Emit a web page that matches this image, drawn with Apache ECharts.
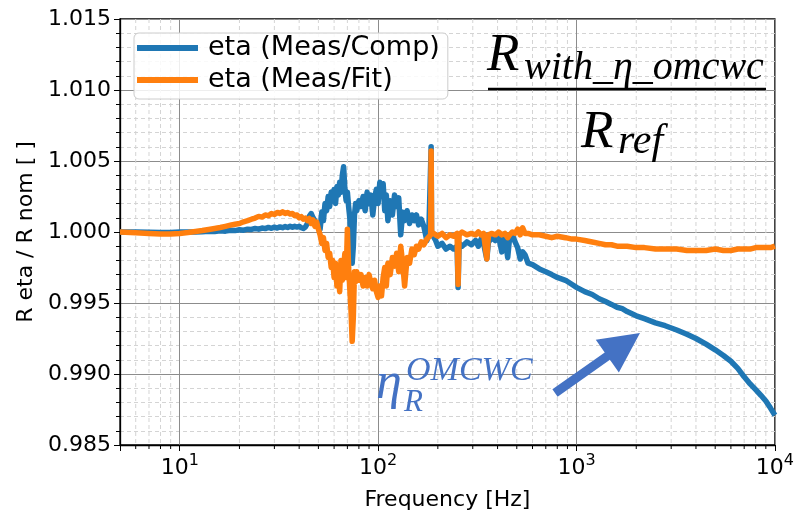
<!DOCTYPE html>
<html>
<head>
<meta charset="utf-8">
<script src="https://cdn.jsdelivr.net/npm/echarts@6/dist/echarts.min.js"></script>
<style>
  html, body { margin: 0; padding: 0; background: #fff; }
  #chart { width: 797px; height: 519px; }
</style>
</head>
<body>
<div id="chart"></div>
<script>
// frequency points [Hz], shared by both curves
const freq = [
  5, 6, 7, 8, 9, 10, 11, 12, 13, 14,
  15, 16, 17, 18, 19, 20, 21, 22, 23, 24,
  25, 26, 27, 28, 29, 30, 31, 32, 33, 34,
  35, 36, 37, 38, 39, 40, 41, 42, 43, 44,
  45, 46, 47, 48, 49, 50, 51, 52, 53, 54,
  55, 56, 57, 58, 59, 60, 61, 62, 63, 64,
  65, 66, 67, 68, 69, 70, 71, 72, 73, 74,
  75, 76, 77, 78, 80, 82, 84, 86, 88, 90,
  92, 94, 96, 98, 100, 102, 104, 106, 108, 110,
  112, 115, 118, 121, 124, 127, 130, 133, 136, 140,
  144, 148, 152, 156, 160, 165, 170, 176, 180, 184,
  185, 186, 188, 195, 200, 210, 220, 230, 240, 250,
  253, 256, 265, 280, 295, 310, 320, 330, 340, 353,
  360, 375, 390, 405, 420, 435, 450, 460, 475, 490,
  505, 520, 535, 550, 570, 600, 650, 700, 750, 800,
  880, 950, 1000, 1100, 1200, 1300, 1400, 1500, 1600, 1700,
  1800, 2000, 2200, 2500, 2800, 3200, 3600, 4000, 4500, 5000,
  5500, 6000, 6500, 7000, 7500, 8000, 8500, 9000, 9500, 10000
];

// eta (Meas/Comp)
const etaComp = [
  1.0000, 1.0000, 0.99998, 0.99996, 0.99997, 1.0000, 1.0000, 1.0000, 1.00002, 1.00005,
  1.00003, 1.00008, 1.00006, 1.00012, 1.0001, 1.00016, 1.00013, 1.0002, 1.00018, 1.00025,
  1.0002, 1.00028, 1.00024, 1.00032, 1.00026, 1.00034, 1.00028, 1.00036, 1.0003, 1.00038,
  1.00032, 1.0004, 1.00033, 1.0004, 1.00035, 1.0004, 1.0003, 1.00025, 1.00035, 1.0006,
  1.0011, 1.0013, 1.0010, 1.0008, 1.0006, 1.0004, 1.0002, 1.0014, 1.0008, 1.0020,
  1.0015, 1.0025, 1.0018, 1.0028, 1.0022, 1.0030, 1.0020, 1.0032, 1.0026, 1.0035,
  1.0028, 1.0040, 1.0046, 1.0030, 1.0022, 1.0028, 1.0018, 1.0010, 0.9985, 0.9978,
  0.9990, 1.0012, 1.0020, 1.0015, 1.0022, 1.0018, 1.0025, 1.0015, 1.0028, 1.0020,
  1.0026, 1.0012, 1.0024, 1.0030, 1.0020, 1.0035, 1.0028, 1.0034, 1.0015, 1.0026,
  1.0008, 1.0022, 1.0012, 1.0026, 1.0018, 1.0024, 0.9998, 1.0014, 1.0008, 1.0015,
  1.0006, 1.0012, 1.0008, 1.0012, 1.0005, 1.0009, 1.0004, 0.9994, 0.9998, 0.9998,
  1.0060, 1.0000, 0.9998, 0.9994, 0.9990, 0.9992, 0.9988, 0.9990, 0.9988, 0.9990,
  0.9961, 0.9992, 0.9990, 0.9993, 0.9991, 0.9994, 0.9990, 0.9995, 0.9992, 0.9981,
  0.9993, 0.9996, 0.9994, 0.9997, 0.9986, 0.9997, 0.9982, 0.9996, 0.9998, 0.9993,
  0.9989, 0.9981, 0.9986, 0.9984, 0.9978, 0.9977, 0.9974, 0.9972, 0.9970, 0.9968,
  0.9966, 0.9963, 0.9961, 0.9958, 0.9956, 0.9953, 0.9951, 0.9949, 0.9947, 0.9946,
  0.9944, 0.9941, 0.9939, 0.9936, 0.9934, 0.9931, 0.9928, 0.9925, 0.9921, 0.9917,
  0.9913, 0.9909, 0.9904, 0.9898, 0.9893, 0.9889, 0.9885, 0.9881, 0.9876, 0.9871
];

// eta (Meas/Fit)
const etaFit = [
  1.0000, 0.99995, 0.9999, 0.99986, 0.99986, 0.9999, 0.99996, 1.00003, 1.0001, 1.00018,
  1.00025, 1.00032, 1.0004, 1.00048, 1.00055, 1.0006, 1.00072, 1.0008, 1.0009, 1.00098,
  1.0011, 1.00105, 1.0012, 1.00115, 1.0013, 1.00124, 1.00138, 1.0013, 1.00142, 1.0013,
  1.00138, 1.00126, 1.0013, 1.00115, 1.0012, 1.001, 1.00108, 1.0009, 1.00098, 1.0008,
  1.00095, 1.0006, 1.00085, 1.0004, 1.0007, 1.0002, 0.9998, 0.9992, 0.9996, 0.9987,
  0.9992, 0.9982, 0.9985, 0.9975, 0.9980, 0.9968, 0.9978, 0.9962, 0.9972, 0.9958,
  0.9980, 0.9966, 0.9975, 0.9985, 0.9968, 1.0002, 0.9975, 0.9960, 0.9945, 0.9923,
  0.9940, 0.9972, 0.9965, 0.9972, 0.9966, 0.9970, 0.9962, 0.9968, 0.9962, 0.9970,
  0.9964, 0.9960, 0.9966, 0.9958, 0.9954, 0.9962, 0.9955, 0.9968, 0.9975, 0.9962,
  0.9978, 0.9970, 0.9982, 0.9976, 0.9985, 0.9972, 0.9990, 0.9978, 0.9962, 0.9982,
  0.9978, 0.9988, 0.9984, 0.9990, 0.9988, 0.9993, 0.9991, 0.9995, 0.9996, 0.9998,
  1.0057, 1.0000, 0.9999, 0.9998, 0.9997, 0.9999, 0.9996, 0.9998, 0.9997, 0.9999,
  0.9963, 0.9998, 1.0000, 0.9998, 0.9999, 0.9998, 1.0000, 0.9998, 0.9999, 0.9981,
  0.9998, 0.9999, 0.9998, 1.0000, 0.9998, 0.9999, 0.9996, 0.9998, 1.0000, 0.9999,
  1.0002, 0.9998, 1.0003, 0.9999, 0.9999, 0.9998, 0.9998, 0.9997, 0.9996, 0.9997,
  0.9996, 0.9995, 0.9995, 0.9994, 0.9993, 0.9992, 0.9991, 0.9991, 0.9990, 0.9990,
  0.9990, 0.9989, 0.9989, 0.9988, 0.9988, 0.9988, 0.9987, 0.9987, 0.9987, 0.9988,
  0.9987, 0.9987, 0.9988, 0.9988, 0.9988, 0.9989, 0.9989, 0.9989, 0.9989, 0.9990
];

const seriesNames = ["eta (Meas/Comp)", "eta (Meas/Fit)"];
const colors = ["#1f77b4", "#ff7f0e"];

// minor ticks of the log axis (2..9 of each decade)
const xMinor = [6, 7, 8, 9, 20, 30, 40, 50, 60, 70, 80, 90,
  200, 300, 400, 500, 600, 700, 800, 900,
  2000, 3000, 4000, 5000, 6000, 7000, 8000, 9000];

const yMin = 0.985, yMax = 1.015;
const FONT = "DejaVu Sans";

const chart = echarts.init(document.getElementById("chart"), null, { renderer: "canvas" });

function curve(i, vals) {
  return {
    type: "line",
    name: seriesNames[i],
    data: freq.map((f, k) => [f, vals[k]]),
    showSymbol: false,
    symbol: "none",
    animation: false,
    z: 3 + i,
    lineStyle: { color: colors[i], width: 5.5, join: "round" },
    itemStyle: { color: colors[i] }
  };
}

// arrow for the eta_R annotation
function arrowPoints(tail, tip, shaftHalf, headLen, headHalf) {
  const dx = tip[0] - tail[0], dy = tip[1] - tail[1];
  const len = Math.sqrt(dx * dx + dy * dy);
  const ux = dx / len, uy = dy / len, nx = -uy, ny = ux;
  const bx = tip[0] - ux * headLen, by = tip[1] - uy * headLen;
  return [
    [tail[0] + nx * shaftHalf, tail[1] + ny * shaftHalf],
    [bx + nx * shaftHalf, by + ny * shaftHalf],
    [bx + nx * headHalf, by + ny * headHalf],
    tip,
    [bx - nx * headHalf, by - ny * headHalf],
    [bx - nx * shaftHalf, by - ny * shaftHalf],
    [tail[0] - nx * shaftHalf, tail[1] - ny * shaftHalf]
  ];
}

const serif = "'Liberation Serif'";
const blue = "#4472c4";

const option = {
  animation: false,
  backgroundColor: "#fff",
  grid: { left: 120, right: 22, top: 19, bottom: 74, show: true, borderColor: "#000", borderWidth: 1.3, backgroundColor: "transparent" },
  legend: {
    data: seriesNames,
    orient: "vertical",
    left: 134,
    top: 33,
    icon: "rect",
    itemWidth: 61,
    itemHeight: 6,
    itemGap: 4,
    padding: [1, 8, 5, 3],
    backgroundColor: "rgba(255,255,255,0.85)",
    borderColor: "#cccccc",
    borderWidth: 1,
    borderRadius: 5,
    textStyle: { fontFamily: FONT, fontSize: 27, color: "#000", lineHeight: 28, padding: [0, 0, 0, 5] }
  },
  xAxis: {
    type: "log",
    logBase: 10,
    min: 5,
    max: 10000,
    name: "Frequency [Hz]",
    nameLocation: "middle",
    nameGap: 44,
    nameTextStyle: { fontFamily: FONT, fontSize: 22, color: "#000" },
    axisLine: { show: true, onZero: false, lineStyle: { color: "#000", width: 1.3 } },
    axisTick: { show: true, length: 6, lineStyle: { color: "#000" } },
    axisLabel: {
      fontFamily: FONT, fontSize: 22, color: "#000", margin: 8,
      formatter: (v) => {
        const e = Math.log10(v);
        if (Math.abs(e - Math.round(e)) > 1e-6) return "";
        return "{b|10}{s|" + Math.round(e) + "}";
      },
      rich: {
        b: { fontFamily: FONT, fontSize: 22, color: "#000", lineHeight: 26, verticalAlign: "bottom" },
        s: { fontFamily: FONT, fontSize: 16, color: "#000", lineHeight: 16, verticalAlign: "top" }
      }
    },
    splitLine: { show: true, lineStyle: { color: "#8c8c8c", width: 1 } }
  },
  yAxis: {
    type: "value",
    min: yMin,
    max: yMax,
    interval: 0.005,
    name: "R eta / R nom [ ]",
    nameLocation: "middle",
    nameGap: 80,
    nameTextStyle: { fontFamily: FONT, fontSize: 22, color: "#000" },
    axisLine: { show: true, lineStyle: { color: "#000", width: 1.3 } },
    axisTick: { show: true, length: 6, lineStyle: { color: "#000" } },
    minorTick: { show: true, splitNumber: 5, length: 4, lineStyle: { color: "#000" } },
    minorSplitLine: { show: true, lineStyle: { color: "#d4d4d4", width: 1, type: [4, 3] } },
    axisLabel: {
      fontFamily: FONT, fontSize: 22, color: "#000", margin: 9,
      formatter: (v) => v.toFixed(3)
    },
    splitLine: { show: true, lineStyle: { color: "#8c8c8c", width: 1 } }
  },
  series: [
    {
      type: "custom",
      silent: true,
      clip: false,
      z: 1,
      data: xMinor.map((f) => [f, yMin]),
      renderItem: (params, api) => {
        const f = api.value(0);
        const top = api.coord([f, yMax]);
        const bot = api.coord([f, yMin]);
        return {
          type: "group",
          children: [
            { type: "line", shape: { x1: top[0], y1: top[1], x2: bot[0], y2: bot[1] },
              style: { stroke: "#d4d4d4", lineWidth: 1, lineDash: [4, 3] } },
            { type: "line", shape: { x1: bot[0], y1: bot[1], x2: bot[0], y2: bot[1] + 4 },
              style: { stroke: "#000", lineWidth: 1 } }
          ]
        };
      }
    },
    curve(0, etaComp),
    curve(1, etaFit)
  ],
  graphic: [
    { type: "text", z: 10, style: { text: "R", x: 487, y: 30, font: "italic 53px " + serif, fill: "#000" } },
    { type: "text", z: 10, style: { text: "with_η_omcwc", x: 524, y: 48, font: "italic 40px " + serif, fill: "#000" } },
    { type: "line", z: 10, shape: { x1: 488, y1: 89, x2: 766, y2: 89 }, style: { stroke: "#000", lineWidth: 2.5 } },
    { type: "text", z: 10, style: { text: "R", x: 581, y: 107, font: "italic 53px " + serif, fill: "#000" } },
    { type: "text", z: 10, style: { text: "ref", x: 618, y: 121, font: "italic 42px " + serif, fill: "#000" } },
    { type: "text", z: 10, style: { text: "η", x: 376, y: 358, font: "italic 52px " + serif, fill: blue } },
    { type: "text", z: 10, style: { text: "OMCWC", x: 406, y: 354, font: "italic 34px " + serif, fill: blue } },
    { type: "text", z: 10, style: { text: "R", x: 404, y: 387, font: "italic 31px " + serif, fill: blue } },
    { type: "polygon", z: 10, shape: { points: arrowPoints([555, 393], [640, 333], 4.5, 40, 20) }, style: { fill: blue } }
  ]
};

chart.setOption(option);
</script>
</body>
</html>
